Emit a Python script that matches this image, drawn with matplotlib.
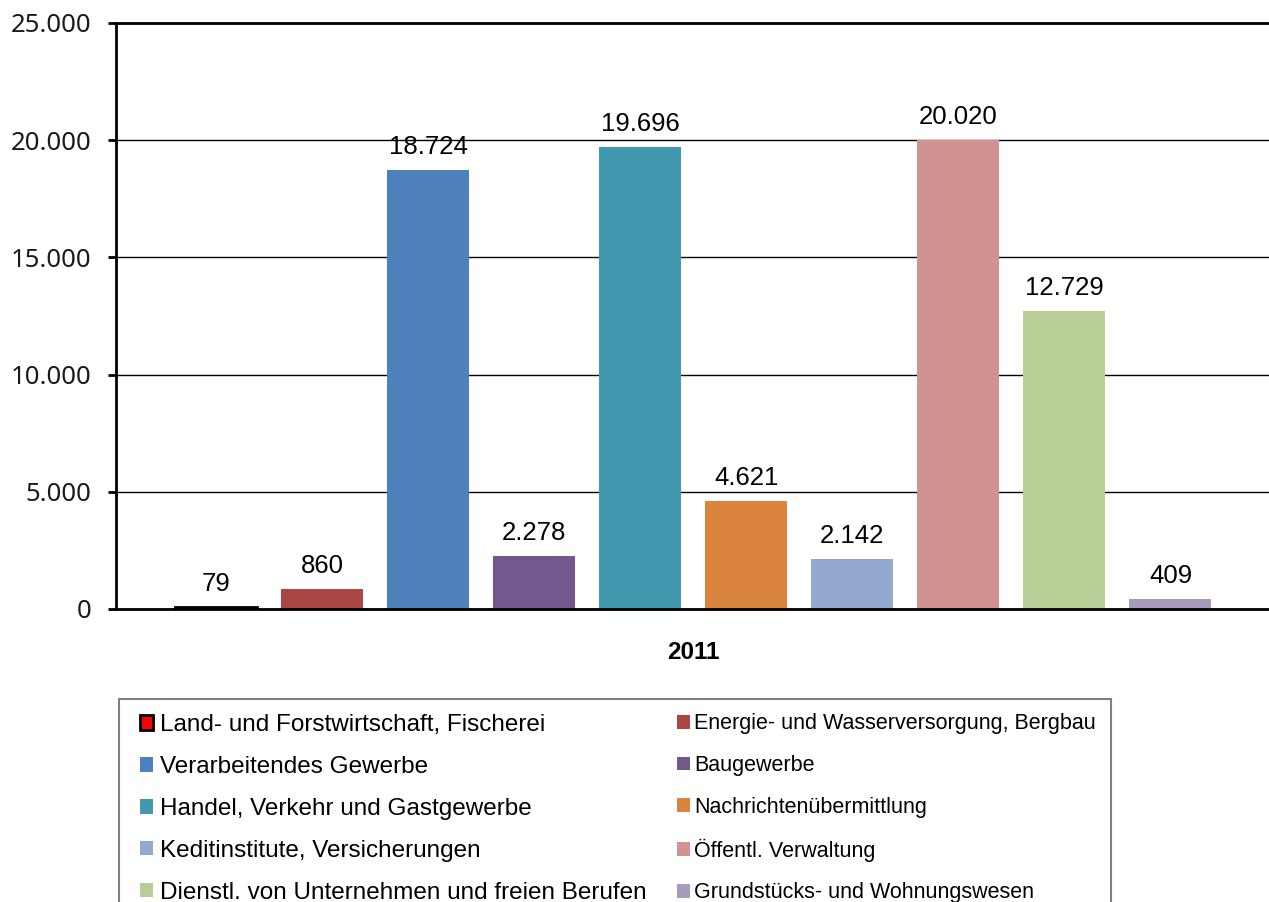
#!/usr/bin/env python
# -*- coding: utf-8 -*-

"""
Bar chart of employees per economic sector, 2011
"""

import matplotlib
matplotlib.use('Agg')
import matplotlib.pyplot as plt
from matplotlib.patches import Patch, Rectangle


#==============================================================================

# data
sectors = ['Land- und Forstwirtschaft, Fischerei',
           'Energie- und Wasserversorgung, Bergbau',
           'Verarbeitendes Gewerbe',
           'Baugewerbe',
           'Handel, Verkehr und Gastgewerbe',
           'Nachrichtenübermittlung',
           'Keditinstitute, Versicherungen',
           'Öffentl. Verwaltung',
           'Dienstl. von Unternehmen und freien Berufen',
           'Grundstücks- und Wohnungswesen']
values = [79, 860, 18724, 2278, 19696, 4621, 2142, 20020, 12729, 409]
year = '2011'
yticks = [0, 5000, 10000, 15000, 20000, 25000]

colours = ['#FF0000', '#AA4643', '#4E80BC', '#72588F', '#4198AF',
           '#DB843D', '#93A9CF', '#D19392', '#B9CD96', '#A99BBD']


def de_fmt(v):

	"""German thousands separator"""

	return f'{v:,}'.replace(',', '.')


#==============================================================================

def main():

	fig = plt.figure(figsize=(12.69, 9.02), dpi=100)
	fig.patch.set_facecolor('white')

	ax = fig.add_axes([116 / 1269., 1 - 609 / 902., 1 - 116 / 1269.,
	                   (609 - 23) / 902.])

	xpos = list(range(len(values)))
	for i, (v, c) in enumerate(zip(values, colours)):
		if i == 0:
			ax.bar(xpos[i], v, width=0.773, color=c, edgecolor='black',
			       linewidth=2, zorder=3)
		else:
			ax.bar(xpos[i], v, width=0.773, color=c, linewidth=0, zorder=3)
		ax.annotate(de_fmt(v), xy=(xpos[i], v), xytext=(0, 11.5),
		            textcoords='offset points', ha='center', va='baseline',
		            fontsize=18.5, family='Liberation Sans', color='black')

	ax.set_xlim(-0.943, 9.929)
	ax.set_ylim(0, 25000)
	ax.set_yticks(yticks)
	ax.set_yticklabels([de_fmt(t) for t in yticks], family='Noto Sans',
	                   fontsize=18.5, color='#1a1a1a')
	ax.tick_params(axis='y', length=6, width=2, pad=11.5, color='black')

	ax.set_xticks([4.5])
	ax.set_xticklabels([year], family='Liberation Sans', fontsize=17.5,
	                   fontweight='bold')
	ax.tick_params(axis='x', length=0, pad=23)

	ax.grid(axis='y', color='black', linewidth=1, zorder=0)
	ax.set_axisbelow(True)

	ax.spines['right'].set_visible(False)
	ax.spines['left'].set_linewidth(2)
	ax.spines['top'].set_linewidth(2)
	ax.spines['bottom'].set_linewidth(2)
	ax.spines['bottom'].set_zorder(4)

	# legend: frame drawn separately, two columns
	frame = Rectangle((119 / 1269., -0.05), (1111 - 119) / 1269.,
	                  (902 - 699) / 902. + 0.05, transform=fig.transFigure,
	                  facecolor='white', edgecolor='#808080', linewidth=1.5,
	                  zorder=0)
	fig.patches.append(frame)

	handles = []
	for i, (s, c) in enumerate(zip(sectors, colours)):
		if i == 0:
			handles.append(Patch(facecolor=c, edgecolor='black',
			                     linewidth=2, label=s))
		else:
			handles.append(Patch(facecolor=c, edgecolor='none', label=s))

	# (indices, x, top, fontsize, handle size, text pad, row spacing)
	cols = [([0, 2, 4, 6, 8], 140, 714, 17.5, 0.54, 0.27, 0.82),
	        ([1, 3, 5, 7, 9], 677, 713.5, 15.5, 0.61, 0.2, 0.96)]
	for idx, x0, y0, fs, hs, tp, ls in cols:
		fig.legend([handles[k] for k in idx],
		           [sectors[k] for k in idx],
		           loc='upper left',
		           bbox_to_anchor=(x0 / 1269., 1 - y0 / 902.),
		           ncol=1, frameon=False, borderaxespad=0,
		           prop={'family': 'Liberation Sans', 'size': fs},
		           handlelength=hs, handleheight=hs,
		           handletextpad=tp, labelspacing=ls, borderpad=0)

	fig.savefig('out.png', dpi=100)


if __name__ == "__main__":

	main()
